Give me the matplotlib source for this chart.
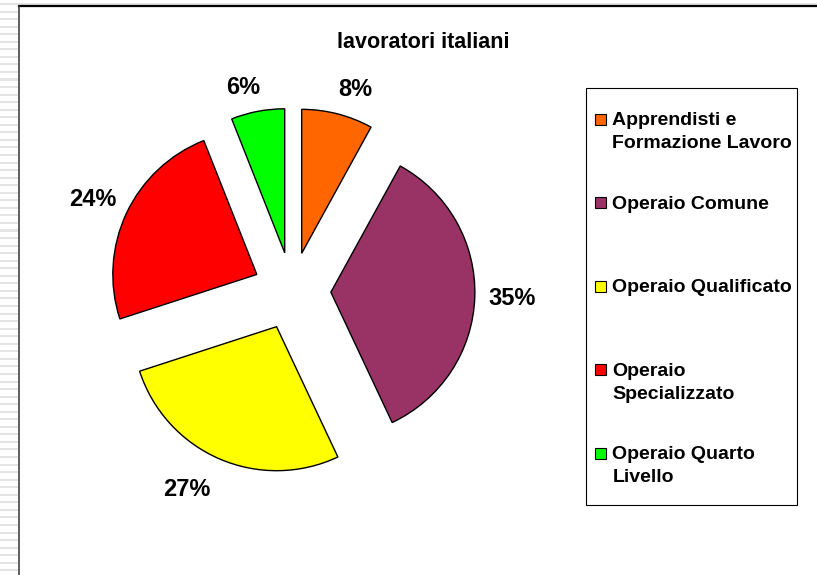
import numpy as np
import matplotlib
matplotlib.use("Agg")
import matplotlib.pyplot as plt
from matplotlib.patches import Rectangle
from matplotlib.lines import Line2D

plt.rcParams['font.family'] = ['Liberation Sans', 'DejaVu Sans']

# dati
title = "lavoratori italiani"
categories = ["Apprendisti e\nFormazione Lavoro", "Operaio Comune", "Operaio Qualificato",
              "Operaio\nSpecializzato", "Operaio Quarto\nLivello"]
values = [8, 35, 27, 24, 6]
colors = ["#FF6600", "#993366", "#FFFF00", "#FF0000", "#00FF00"]

W, H = 817, 575
fig = plt.figure(figsize=(W / 100, H / 100), dpi=100)

# pixel -> coordinate figura
def fx(px):
    return px / W

def fy(py):
    return 1 - py / H

# striscia a righe sulla sinistra (sfondo della slide)
for yy in np.arange(4, H, 7.55):
    fig.add_artist(Rectangle((0, fy(yy + 1)), fx(18), 2 / H, color="#e4e4e4", lw=0))
fig.add_artist(Rectangle((0, fy(5)), 1, 1.6 / H, color="#e4e4e4", lw=0))

# bordo area grafico
fig.add_artist(Line2D([fx(19), 1], [fy(6), fy(6)], color="black", lw=1.6))
fig.add_artist(Line2D([fx(19), fx(19)], [fy(6), 0], color="#333333", lw=1.1))

# torta: centro (292, 291) px, raggio 144 px
cx, cy, R = 292, 291, 144
ax = fig.add_axes([0, 0, 1, 1])
wedges, texts, autotexts = ax.pie(
    values, colors=colors, explode=[0.27] * len(values), radius=1,
    startangle=90, counterclock=False,
    autopct=lambda p: f"{p:.0f}%", pctdistance=1.23,
    wedgeprops=dict(edgecolor="black", linewidth=1),
    textprops=dict(fontsize=17, fontweight="bold", color="black"))

# piccoli spostamenti delle etichette come in Excel (in px)
label_nudge = [(10, -8), (4, -1), (-19, 0), (-4, 0), (-8, -9)]
for t, (dx, dy) in zip(autotexts, label_nudge):
    x0, y0 = t.get_position()
    t.set_position((x0 + dx / R, y0 + dy / R))

ax.set_xlim(-cx / R, (W - cx) / R)
ax.set_ylim(-(H - cy) / R, cy / R)
ax.set_aspect("equal")
ax.axis("off")

fig.text(fx(423), fy(42), title, ha="center", va="center", fontsize=15.5, fontweight="bold")

# legenda
fig.add_artist(Rectangle((fx(586), fy(505)), fx(797) - fx(586), fy(88) - fy(505),
                         fill=False, edgecolor="black", lw=0.8))
tops = np.linspace(119, 453, len(categories))
for lab, col, t in zip(categories, colors, tops):
    fig.add_artist(Rectangle((fx(595), fy(t + 5.5)), 11 / W, 11 / H,
                             facecolor=col, edgecolor="black", lw=0.8))
    fig.text(fx(612.5), fy(t - 7), lab, ha="left", va="top", fontsize=14, fontweight="bold",
             linespacing=1.5)

fig.savefig("out.png", dpi=100)
